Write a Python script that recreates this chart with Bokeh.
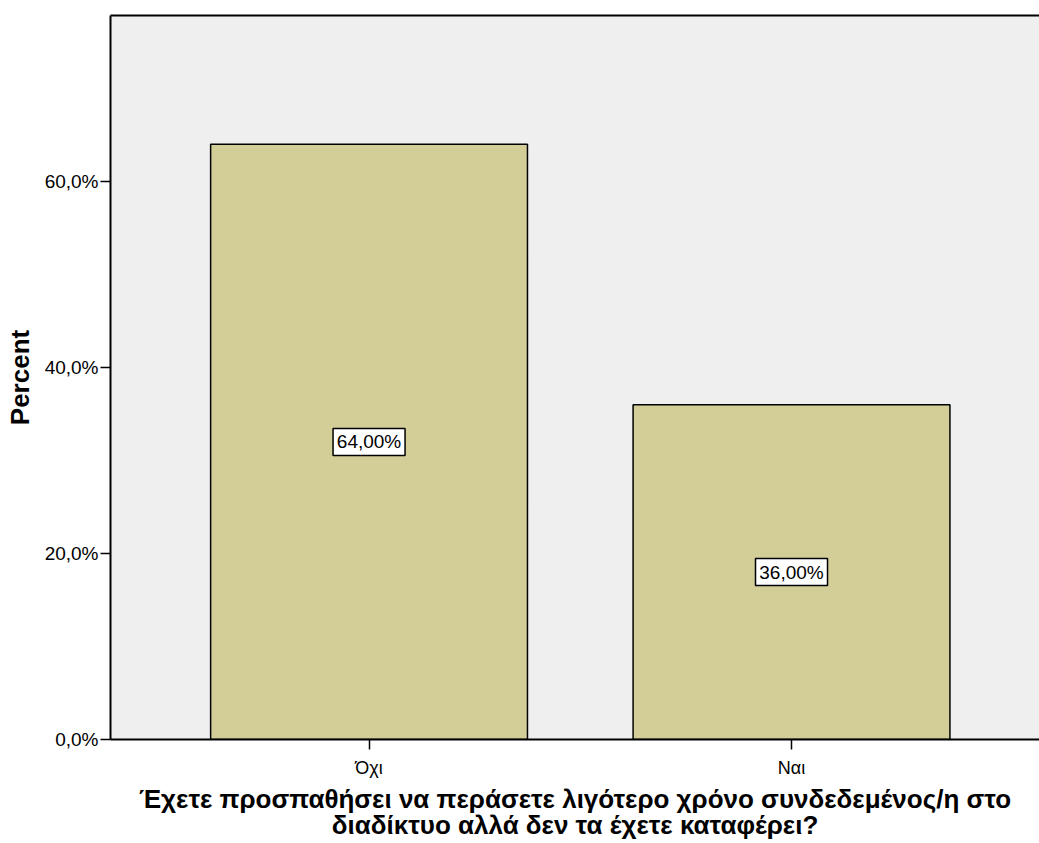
from bokeh.plotting import figure
from bokeh.models import ColumnDataSource, LinearAxis, FixedTicker, Range1d
from bokeh.core.properties import value
from bokeh.embed import file_html
from bokeh.resources import INLINE

categories = ["Όχι", "Ναι"]
percents = [64.0, 36.0]
bar_labels = ["64,00%", "36,00%"]
y_ticks = [0, 20, 40, 60]
y_tick_labels = ["0,0%", "20,0%", "40,0%", "60,0%"]
x_title = "Έχετε προσπαθήσει να περάσετε λιγότερο χρόνο συνδεδεμένος/η στο\nδιαδίκτυο αλλά δεν τα έχετε καταφέρει?"
y_title = "Percent"

FONT = "Liberation Sans"
positions = [i + 1 for i in range(len(categories))]

src = ColumnDataSource(dict(
    x=positions,
    top=percents,
    mid=[v / 2 for v in percents],
    lab=bar_labels,
))

p = figure(width=1039, height=843, output_backend="svg", toolbar_location=None,
           x_range=Range1d(0.388, 2.587), y_range=Range1d(0, 77.85),
           min_border_left=110, min_border_right=0, min_border_top=15, min_border_bottom=104)
p.background_fill_color = "#EFEFEF"
p.border_fill_color = "white"
p.outline_line_color = None
p.xgrid.visible = False
p.ygrid.visible = False

p.vbar(x="x", top="top", bottom=0, width=0.75, source=src,
       fill_color="#D3CE97", line_color="black", line_width=1.5)

p.rect(x="x", y="mid", width=72, height=27, width_units="screen", height_units="screen",
       source=src, fill_color="white", line_color="black", line_width=1.5)
p.text(x="x", y="mid", text="lab", source=src, text_align="center", text_baseline="middle",
       text_font=value(FONT), text_font_size="19px", text_color="black")

# x axis
xa = p.xaxis[0]
xa.ticker = FixedTicker(ticks=positions)
xa.major_label_overrides = {pos: c for pos, c in zip(positions, categories)}
xa.minor_tick_line_color = None
xa.major_tick_out = 10
xa.major_tick_in = 0
xa.axis_line_width = 2
xa.major_tick_line_width = 1.5
xa.major_label_text_font = FONT
xa.major_label_text_font_size = "18px"
xa.major_label_text_color = "black"
xa.major_label_standoff = 8
xa.axis_label = x_title
xa.axis_label_text_font = FONT
xa.axis_label_text_font_style = "bold"
xa.axis_label_text_font_size = "26px"
xa.axis_label_text_color = "black"
xa.axis_label_standoff = 3
xa.axis_label_text_line_height = 0.88

# y axis
ya = p.yaxis[0]
ya.ticker = FixedTicker(ticks=y_ticks)
ya.major_label_overrides = {t: l for t, l in zip(y_ticks, y_tick_labels)}
ya.minor_tick_line_color = None
ya.major_tick_out = 10
ya.major_tick_in = 0
ya.axis_line_width = 2
ya.major_tick_line_width = 1.5
ya.major_label_text_font = FONT
ya.major_label_text_font_size = "19px"
ya.major_label_text_color = "black"
ya.major_label_standoff = 2
ya.axis_label = y_title
ya.axis_label_text_font = FONT
ya.axis_label_text_font_style = "bold"
ya.axis_label_text_font_size = "26px"
ya.axis_label_text_color = "black"
ya.axis_label_standoff = 7

# top border line
top = LinearAxis(ticker=FixedTicker(ticks=[]), axis_line_width=2,
                 major_tick_line_color=None, minor_tick_line_color=None,
                 major_label_text_font_size="0px", major_label_standoff=0)
p.add_layout(top, "above")

open("out.html", "w").write(file_html(p, INLINE))
